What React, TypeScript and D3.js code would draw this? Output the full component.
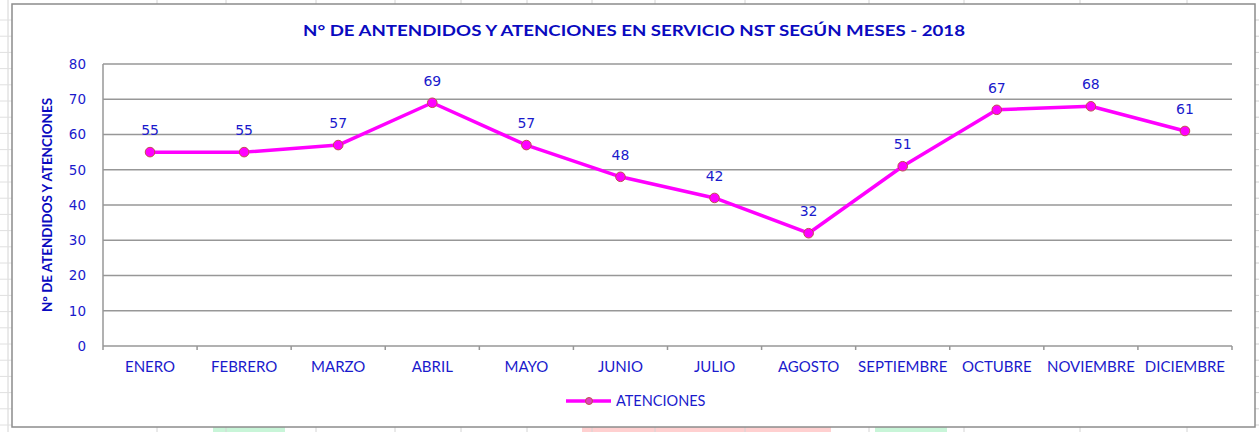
import React from "react";
import * as d3 from "d3";

const categories = ["ENERO", "FEBRERO", "MARZO", "ABRIL", "MAYO", "JUNIO", "JULIO", "AGOSTO", "SEPTIEMBRE", "OCTUBRE", "NOVIEMBRE", "DICIEMBRE"];
const atenciones = [55, 55, 57, 69, 57, 48, 42, 32, 51, 67, 68, 61];
const yTicks = [0, 10, 20, 30, 40, 50, 60, 70, 80];
const seriesName = "ATENCIONES";
const title = "N° DE ANTENDIDOS Y ATENCIONES EN SERVICIO NST SEGÚN MESES - 2018";
const yTitle = "N° DE ATENDIDOS Y ATENCIONES";

const bgCols = [8, 157, 226, 316, 395, 461, 527, 592, 655, 745, 869, 964, 1080, 1187];

export default function App() {
  const W = 1259, H = 432;
  const left = 103, right = 1232, top = 64, bottom = 346;
  const x = d3.scaleBand<string>().domain(categories).range([left, right]);
  const y = d3.scaleLinear().domain([0, 80]).range([bottom, top]);
  const line = d3.line<number>().x((_, i) => x(categories[i])! + x.bandwidth() / 2).y((d) => y(d));
  const font = "Lato, 'Open Sans', sans-serif";
  const numFont = "'DejaVu Sans', Verdana, sans-serif";
  const blue = "#1a1acc";
  const rows = d3.range(20, 432, 16.2);
  return (
    <svg width={W} height={H} style={{ position: "absolute", left: 0, top: 0 }} fontFamily={font}>
      <rect x={0} y={0} width={W} height={H} fill="#fff" />
      {/* spreadsheet background */}
      <rect x={213} y={427} width={72} height={5} fill="#c8f5d8" />
      <rect x={582} y={427} width={249} height={5} fill="#ffd0d0" />
      <rect x={875} y={427} width={72} height={5} fill="#c8f5d8" />
      {bgCols.map((c) => (
        <line key={c} x1={c} x2={c} y1={0} y2={H} stroke="#d4d4d4" strokeWidth={1} />
      ))}
      {rows.map((r) => (
        <g key={r}>
          <line x1={0} x2={12} y1={r} y2={r} stroke="#e0e0e0" />
          <line x1={1255} x2={1259} y1={r} y2={r} stroke="#d0d0d0" />
        </g>
      ))}
      {/* chart area */}
      <rect x={12} y={4} width={1243} height={423} fill="#fff" stroke="#8c8c8c" strokeWidth={1.5} />
      <text x={634} y={36} textAnchor="middle" fontWeight="bold" fontSize={15.5} fill="#0a0ac0" textLength={662} lengthAdjust="spacingAndGlyphs">
        {title}
      </text>
      {/* gridlines */}
      {yTicks.map((t) => (
        <g key={t}>
          {t > 0 && <line x1={left} x2={right} y1={y(t)} y2={y(t)} stroke="#979797" strokeWidth={1.5} />}
          <text x={86} y={y(t)} dy="0.36em" textAnchor="end" fontSize={13.5} fontFamily={numFont} fill={blue}>
            {t}
          </text>
        </g>
      ))}
      <line x1={left} x2={left} y1={top} y2={bottom + 4} stroke="#979797" strokeWidth={1.5} />
      <line x1={left} x2={right} y1={bottom} y2={bottom} stroke="#979797" strokeWidth={1.5} />
      {categories.map((c, i) => (
        <g key={c}>
          <line x1={x(c)! + x.bandwidth()} x2={x(c)! + x.bandwidth()} y1={bottom} y2={bottom + 4} stroke="#979797" strokeWidth={1.5} />
          <text x={x(c)! + x.bandwidth() / 2} y={367} dy="0.36em" textAnchor="middle" fontSize={15} fill={blue}>
            {c}
          </text>
        </g>
      ))}
      <text transform={`translate(52,205) rotate(-90)`} textAnchor="middle" fontWeight="bold" fontSize={12.5} fill="#0a0ac0" textLength={214} lengthAdjust="spacingAndGlyphs">
        {yTitle}
      </text>
      {/* series */}
      <path d={line(atenciones)!} fill="none" stroke="#ff00ff" strokeWidth={3.5} strokeLinejoin="round" />
      {atenciones.map((v, i) => {
        const cx = x(categories[i])! + x.bandwidth() / 2;
        return (
          <g key={i}>
            <circle cx={cx} cy={y(v)} r={4.8} fill="#ff00ff" stroke="#c0504d" strokeWidth={1} />
            <text x={cx} y={y(v) - 22} dy="0.36em" textAnchor="middle" fontSize={14} fontFamily={numFont} fill={blue}>
              {v}
            </text>
          </g>
        );
      })}
      {/* legend */}
      <line x1={566} x2={611} y1={401} y2={401} stroke="#ff00ff" strokeWidth={3.5} />
      <circle cx={589} cy={401} r={3.5} fill="#e040c0" stroke="#c0504d" strokeWidth={1} />
      <text x={616} y={401} dy="0.36em" fontSize={14.5} fill={blue}>
        {seriesName}
      </text>
    </svg>
  );
}
